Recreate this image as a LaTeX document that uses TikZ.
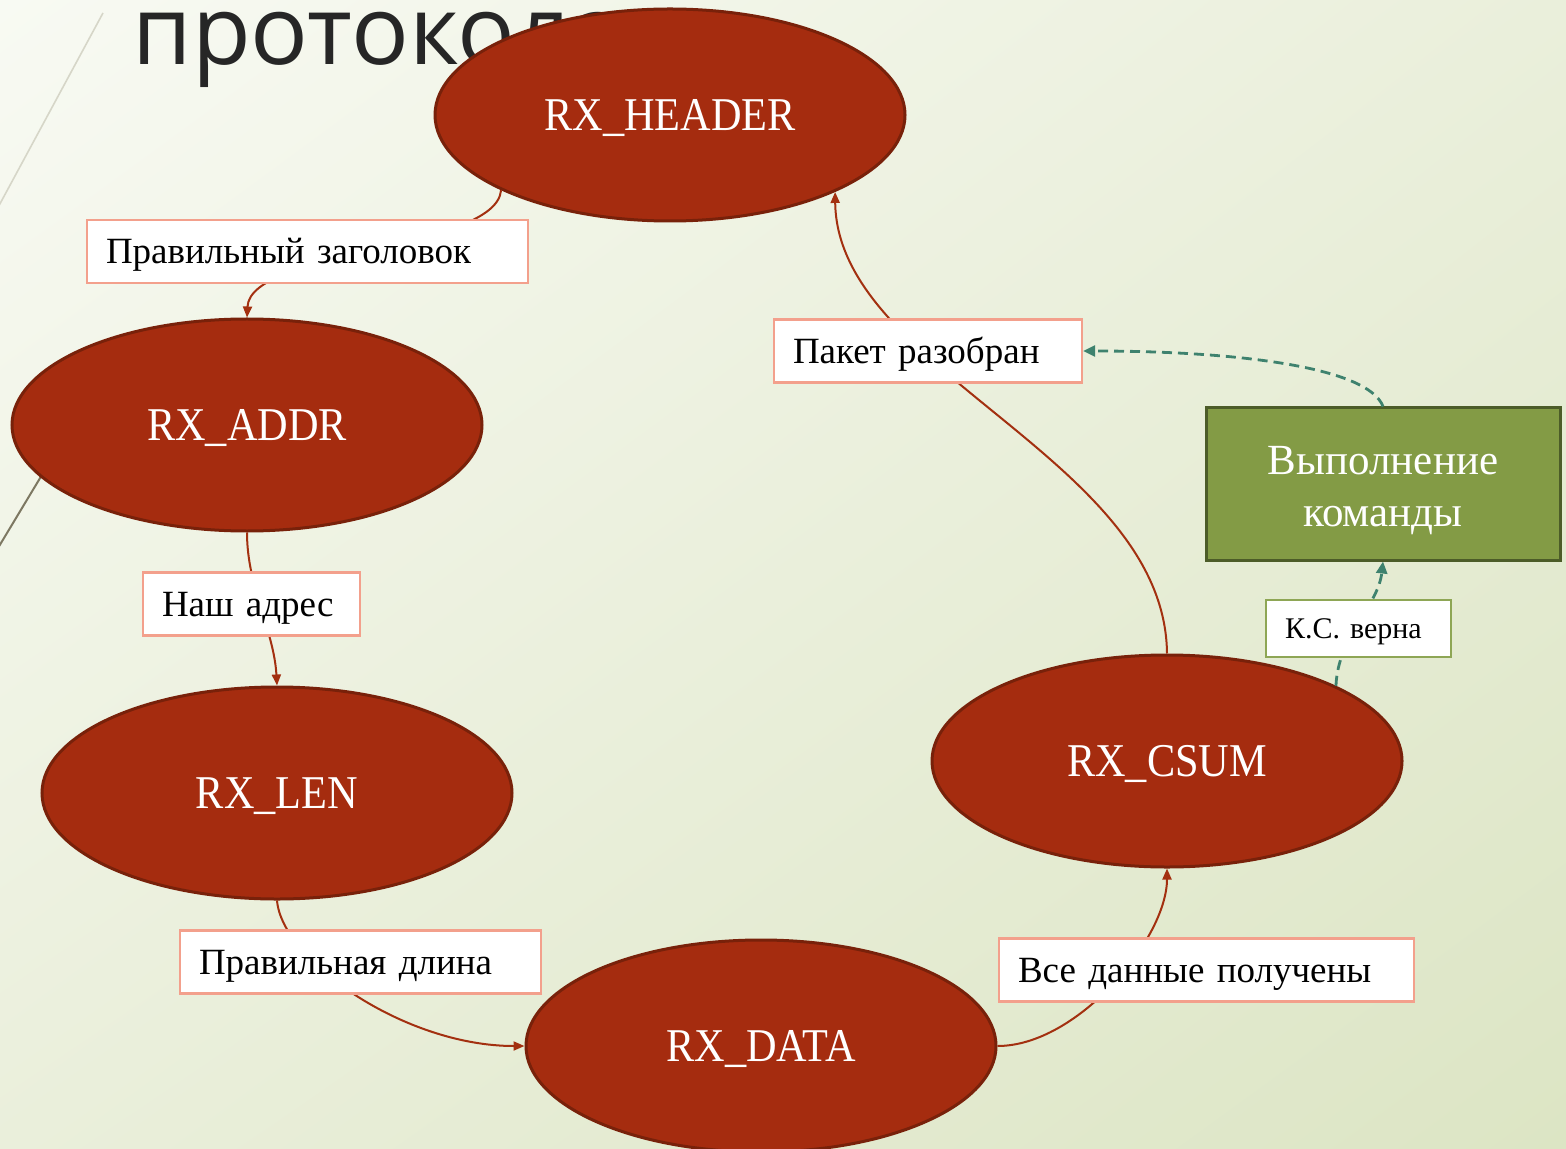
\documentclass[tikz,border=0pt]{standalone}
\usepackage{fontspec}
\setmainfont{Liberation Serif}[WordSpace=0.85]
\newfontfamily\titlefont{Open Sans}
\newfontfamily\statefont{Liberation Serif}[FakeStretch=0.9]
\usetikzlibrary{shapes.geometric,arrows.meta,shadings}

\definecolor{bgA}{RGB}{248,250,243}
\definecolor{bgB}{RGB}{234,239,219}
\definecolor{bgC}{RGB}{220,229,196}
\definecolor{stateFill}{RGB}{165,44,15}
\definecolor{stateLine}{RGB}{120,33,10}
\definecolor{flow}{RGB}{163,48,16}
\definecolor{salmon}{RGB}{243,160,140}
\definecolor{execFill}{RGB}{131,155,69}
\definecolor{execLine}{RGB}{76,92,40}
\definecolor{olive}{RGB}{142,166,85}
\definecolor{teal}{RGB}{62,130,110}
\definecolor{titleGray}{RGB}{38,38,38}

\tikzset{
  state/.style={ellipse, draw=stateLine, line width=1.5pt, fill=stateFill,
    minimum width=235pt, minimum height=106pt, inner sep=0pt,
    text height=15.6pt, text depth=0pt,
    text=white, font=\statefont\fontsize{23.5}{26}\selectfont},
  lbl/.style={rectangle, draw=salmon, line width=1.2pt, fill=white,
    align=left, inner xsep=9.5pt, inner ysep=0pt, minimum height=31.5pt,
    text height=12.3pt, text depth=0pt,
    font=\fontsize{18.5}{21}\selectfont},
  flowline/.style={draw=flow, line width=1pt, -{Triangle[length=5.5pt,width=4.5pt]}},
  dashline/.style={draw=teal, line width=1.4pt, dash pattern=on 5pt off 3pt,
    -{Triangle[length=6pt,width=5.5pt]}}
}

\begin{document}
\begin{tikzpicture}[x=0.5pt,y=-0.5pt]
  \useasboundingbox (0,0) rectangle (1566,1149);
  % backdrop
  \shade[upper left=bgA, upper right=bgB, lower left=bgB, lower right=bgC]
    (0,0) rectangle (1566,1149);
  \draw[line width=0.8pt, draw={rgb,255:red,214;green,214;blue,200}] (103,13) -- (-5,213);
  \draw[line width=1pt, draw={rgb,255:red,125;green,120;blue,98}] (90,395) -- (-5,553);

  % heading
  \node[anchor=base west, inner sep=0pt, text=titleGray, text height=26pt,
        font=\titlefont\fontsize{48}{50}\selectfont] (title) at (132,65) {протокола};

  % states
  \node[state] (hdr)  at (670,115)  {RX\_HEADER};
  \node[state] (addr) at (247,425)  {RX\_ADDR};
  \node[state] (len)  at (277,793)  {RX\_LEN};
  \node[state] (data) at (761,1046) {RX\_DATA};
  \node[state] (csum) at (1167,761) {RX\_CSUM};

  \node[rectangle, draw=execLine, line width=1.5pt, fill=execFill,
        minimum width=177pt, minimum height=76pt, align=center, text=white,
        font=\fontsize{21.5}{26}\selectfont] (exec) at (1383,484)
        {\rule{0pt}{20.5pt}Выполнение\\команды};

  % transitions
  \draw[flowline] (hdr.204) .. controls +(-5,60) and +(3,-68) .. (addr.north);
  \draw[flowline] (addr.south) .. controls +(0,55) and +(-3,-55) .. (len.north);
  \draw[flowline] (len.south) .. controls +(5,60) and +(-120,0) .. (data.west);
  \draw[flowline] (data.east) .. controls +(80,0) and +(0,70) .. (csum.south);
  \draw[flowline] (csum.north) .. controls +(-2,-195) and +(2,179) .. (hdr.335);
  \draw[dashline] (csum.24) .. controls +(2,-50) and +(-5,45) .. (exec.south);

  % transition labels
  \node[lbl, text width=201.5pt] (l1) at (307.5,251.5) {Правильный заголовок};
  \node[lbl, text width=89.5pt]  (l2) at (251.5,604)   {Наш адрес};
  \node[lbl, text width=161.5pt] (l3) at (360.5,962)   {Правильная длина};
  \node[lbl, text width=188.5pt] (l4) at (1206.5,970)  {Все данные получены};
  \node[lbl, text width=135pt]   (l5) at (928,351)     {Пакет разобран};
  \node[lbl, draw=olive, text width=73.5pt, minimum height=28.5pt,
        text height=9.9pt, font=\fontsize{15}{17}\selectfont] (l6) at (1358.5,628.5) {К.С. верна};

  \draw[dashline] (exec.north) .. controls +(-15,-40) and +(150,0) .. (l5.east);
\end{tikzpicture}
\end{document}
